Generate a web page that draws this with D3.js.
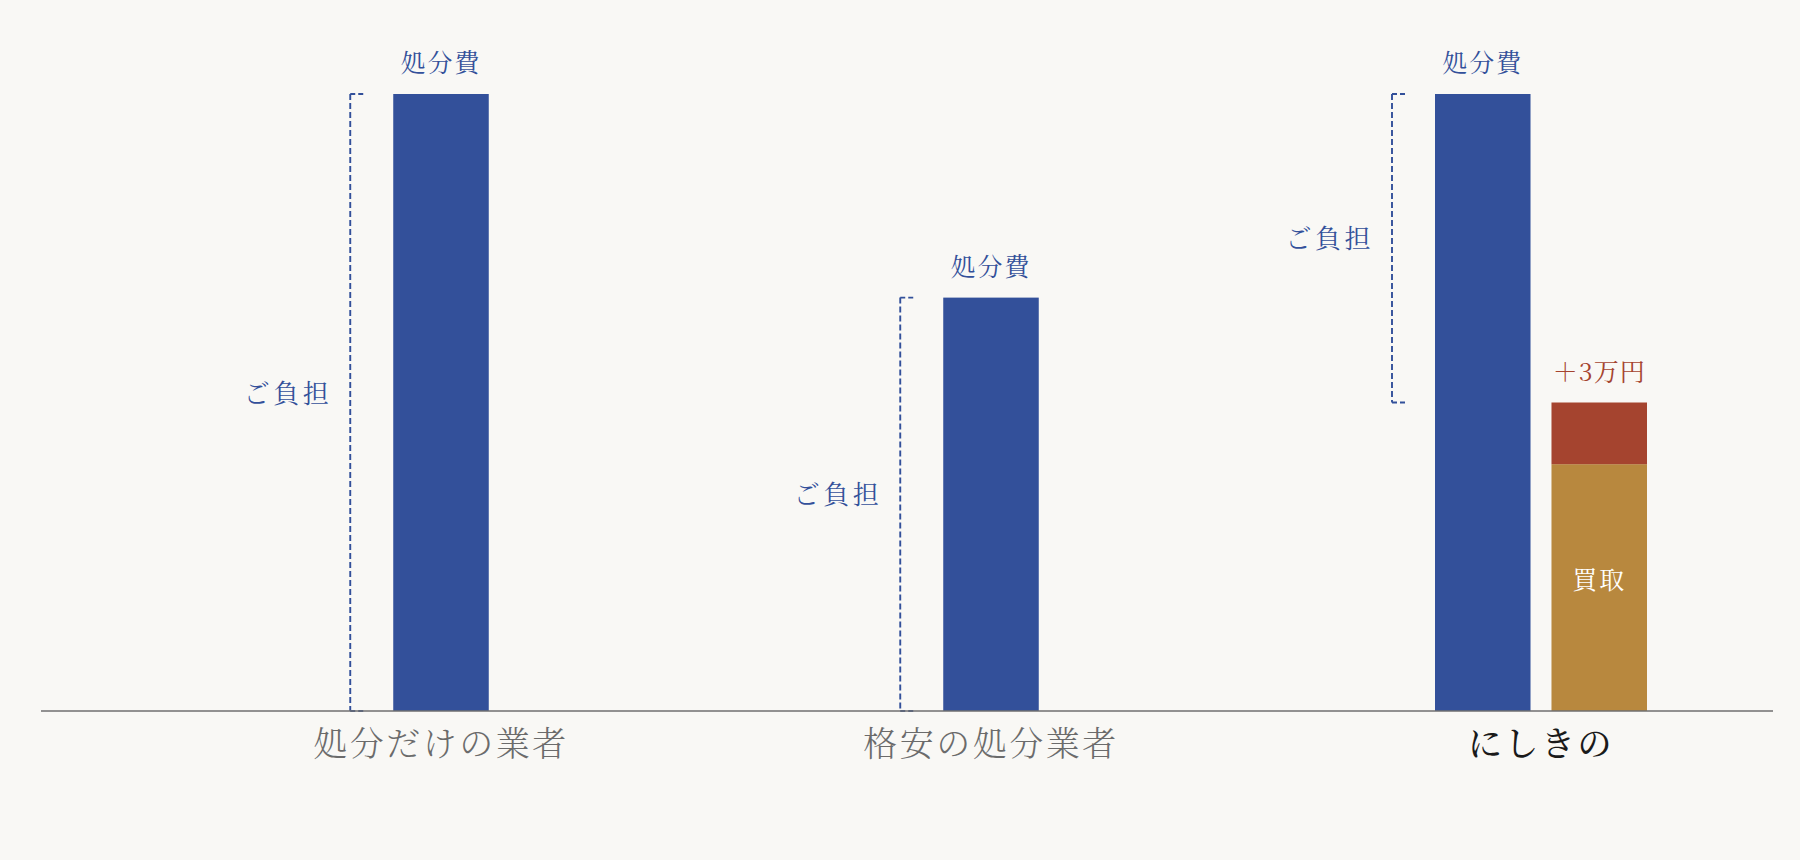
<!DOCTYPE html>
<html><head><meta charset="utf-8">
<script src="https://cdn.jsdelivr.net/npm/d3@7"></script>
<style>
html,body{margin:0;padding:0;background:#f9f8f5;}
svg{display:block;}
text{font-family:"Noto Serif CJK JP","Noto Sans CJK JP",serif;}
</style></head>
<body>
<svg id="chart" width="1800" height="860"></svg>
<script>
const categories = ["処分だけの業者", "格安の処分業者", "にしきの"];
const disposalCost = [100, 67, 100];
const buybackValue = [0, 0, 40];
const bonusValue = [0, 0, 10];
const bonusLabel = "＋3万円";
const costLabel = "処分費";
const burdenLabel = "ご負担";
const buybackLabel = "買取";

const W = 1800, H = 860;
const svg = d3.select("#chart");
const blue = "#33509a", red = "#a5442f", gold = "#b8883e";

const x = d3.scalePoint().domain(categories).range([441, 1541]);
const y = d3.scaleLinear().domain([0, 100]).range([711, 94]);
const sub = d3.scaleBand().domain(["cost", "buy"]).range([-106, 106]).paddingInner(0.18);
const bw = sub.bandwidth();

const data = categories.map((c, i) => ({
  cat: c, cost: disposalCost[i], buy: buybackValue[i], bonus: bonusValue[i]
}));

data.forEach((d, i) => {
  const hasBuy = d.buy + d.bonus > 0;
  const cx = hasBuy ? x(d.cat) + sub("cost") : x(d.cat) - bw / 2;
  svg.append("rect").attr("x", cx).attr("y", y(d.cost))
    .attr("width", bw).attr("height", y(0) - y(d.cost)).attr("fill", blue);
  svg.append("text").attr("x", cx + bw / 2).attr("y", y(d.cost) - 22)
    .attr("text-anchor", "middle").attr("font-size", 25).attr("letter-spacing", 2)
    .attr("fill", blue).text(costLabel);

  const low = hasBuy ? d.buy + d.bonus : 0;
  const bx = cx - 43;
  const g = svg.append("g").attr("fill", "none").attr("stroke", blue)
    .attr("stroke-width", 1.9).attr("stroke-dasharray", "6,3");
  g.append("line").attr("x1", bx).attr("x2", bx).attr("y1", y(d.cost)).attr("y2", y(low));
  [d.cost, low].forEach(v => {
    g.append("line").attr("x1", bx).attr("x2", bx + 14).attr("y1", y(v)).attr("y2", y(v))
      .attr("stroke-dasharray", "5,3");
  });
  svg.append("text").attr("x", bx - 18).attr("y", (y(d.cost) + y(low)) / 2)
    .attr("text-anchor", "end").attr("font-size", 26).attr("letter-spacing", 3.5)
    .attr("fill", blue).text(burdenLabel);

  if (hasBuy) {
    const gx = x(d.cat) + sub("buy");
    svg.append("rect").attr("x", gx).attr("y", y(d.buy))
      .attr("width", bw).attr("height", y(0) - y(d.buy)).attr("fill", gold);
    svg.append("rect").attr("x", gx).attr("y", y(d.buy + d.bonus))
      .attr("width", bw).attr("height", y(d.buy) - y(d.buy + d.bonus)).attr("fill", red);
    svg.append("text").attr("x", gx + bw / 2).attr("y", y(d.buy + d.bonus) - 22)
      .attr("text-anchor", "middle").attr("font-size", 25).attr("letter-spacing", 1)
      .attr("fill", red).text(bonusLabel);
    svg.append("text").attr("x", gx + bw / 2).attr("y", (y(d.buy) + y(0)) / 2 + 1)
      .attr("text-anchor", "middle").attr("font-size", 25).attr("letter-spacing", 2)
      .attr("fill", "#ffffff").text(buybackLabel);
  }
});

svg.append("line").attr("x1", 41).attr("x2", 1773).attr("y1", y(0)).attr("y2", y(0))
  .attr("stroke", "#6f6f6f").attr("stroke-width", 1.6);

svg.selectAll("text.cat").data(data).join("text").attr("class", "cat")
  .attr("x", d => x(d.cat)).attr("y", 756)
  .attr("text-anchor", "middle").attr("font-size", 34).attr("letter-spacing", 2.5)
  .attr("fill", (d, i) => i === categories.length - 1 ? "#1a1a1a" : "#6b6b6b")
  .attr("font-weight", (d, i) => i === categories.length - 1 ? 500 : 300)
  .text(d => d.cat);
</script>
</body></html>
